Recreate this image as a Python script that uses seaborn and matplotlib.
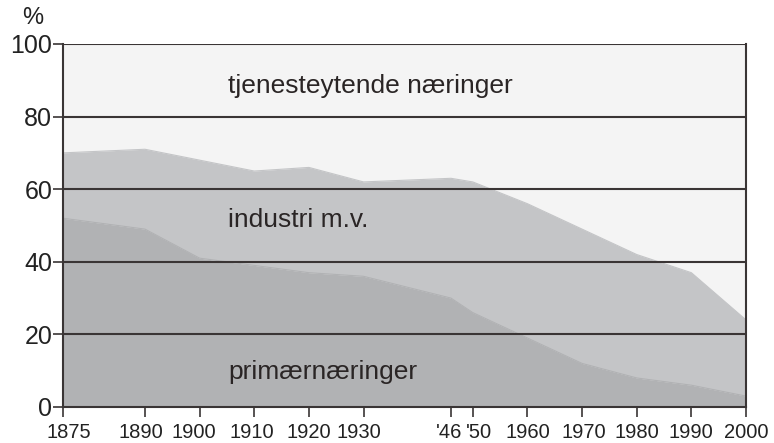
"""Sysselsetting etter næring, Norge 1875-2000 (stacked area)."""

import matplotlib
matplotlib.use("Agg")
import matplotlib.pyplot as plt
import matplotlib.transforms as mtransforms
import pandas as pd
import seaborn as sns

years = [1875, 1890, 1900, 1910, 1920, 1930, 1946, 1950, 1960, 1970, 1980, 1990, 2000]
primary = [52, 49, 41, 39, 37, 36, 30, 26, 19, 12, 8, 6, 3]
industry = [18, 22, 27, 26, 29, 26, 33, 36, 37, 37, 34, 31, 21]
tick_labels = ["1875", "1890", "1900", "1910", "1920", "1930", "'46", "'50",
               "1960", "1970", "1980", "1990", "2000"]
y_ticks = [0, 20, 40, 60, 80, 100]

df = pd.DataFrame({"year": years, "primary": primary, "industry": industry})
df["total"] = df["primary"] + df["industry"]

sns.set_style("ticks")
plt.rcParams["font.family"] = ["Liberation Sans", "DejaVu Sans"]

dark = "#3a3535"
c_service = "#f4f4f4"
c_industry = "#c4c5c7"
c_primary = "#b1b2b4"

fig = plt.figure(figsize=(7.74, 4.43), dpi=100)
ax = fig.add_axes([0.0814, 0.0813, 0.8824, 0.8194])
ax.set_facecolor(c_service)

ax.fill_between(df["year"], df["primary"], df["total"], color=c_industry, lw=0)
ax.fill_between(df["year"], 0, df["primary"], color=c_primary, lw=0)
sns.lineplot(data=df, x="year", y="total", ax=ax, color=c_industry, lw=0.8)
sns.lineplot(data=df, x="year", y="primary", ax=ax, color=c_primary, lw=0.8)

for y in y_ticks[1:]:
    ax.axhline(y, color=dark, lw=1.5, zorder=5)

ax.set_xlim(1875, 2000)
ax.set_ylim(0, 100)
ax.set_xticks(years)
ax.set_xticklabels(tick_labels, fontsize=14.5, color="#222222")
ax.set_yticks(y_ticks)
ax.set_yticklabels([str(v) for v in y_ticks], fontsize=18, color="#222222")
ax.tick_params(axis="both", direction="out", length=7.2, width=1.2, color=dark)
ax.tick_params(axis="x", pad=4.5)
ax.tick_params(axis="y", pad=0.5)
ax.set_xlabel("")
ax.set_ylabel("")

# small horizontal nudges of the year labels, as in the original print
nudges = [6, -4.5, -6, -2, 0, -5, -2, 6, 0, 2, 0, 0, 0]
for lab, dx in zip(ax.get_xticklabels(), nudges):
    lab.set_transform(lab.get_transform()
                      + mtransforms.ScaledTranslation(dx / 100, 0, fig.dpi_scale_trans))

for side in ["left", "right", "bottom"]:
    ax.spines[side].set_visible(True)
    ax.spines[side].set_color(dark)
    ax.spines[side].set_linewidth(1.5)
ax.spines["top"].set_visible(False)

txt = dict(fontsize=19, color="#2a2525", ha="left", va="baseline", zorder=6)
ax.text(1905.2, 86.4, "tjenesteytende næringer", **txt)
ax.text(1905.2, 49.7, "industri m.v.", **txt)
ax.text(1905.2, 7.7, "primærnæringer", **txt)

fig.text(33 / 774, 1 - 18 / 443, "%", fontsize=17, color="#222222",
         ha="center", va="center")

fig.savefig("out.png", dpi=100)
